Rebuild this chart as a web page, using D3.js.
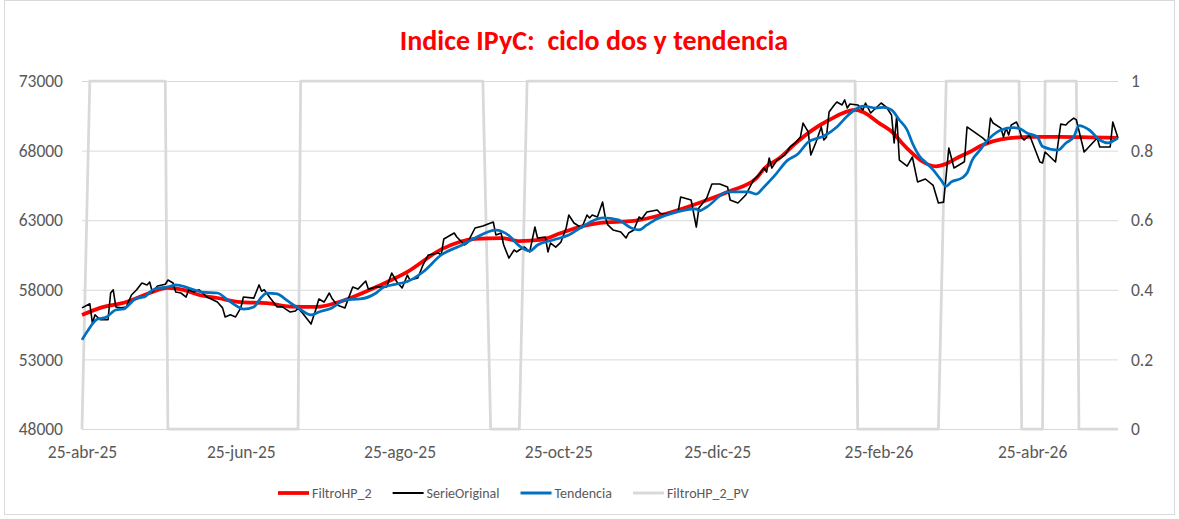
<!DOCTYPE html>
<html>
<head>
<meta charset="utf-8">
<script src="https://cdn.jsdelivr.net/npm/d3@7"></script>
<style>
  body { margin: 0; background: #fff; }
  svg { display: block; font-family: "Liberation Sans Narrow", Carlito, "Liberation Sans", sans-serif; }
</style>
</head>
<body>
<svg id="chart" width="1179" height="519"></svg>
<script>
// ---- data ----
var serieOriginal = [
  ["2025-04-25",56700],["2025-04-28",57000],["2025-04-29",55600],["2025-04-30",56200],["2025-05-02",55850],["2025-05-05",55850],
  ["2025-05-06",57770],["2025-05-07",58000],["2025-05-08",56770],["2025-05-10",56700],["2025-05-12",56770],["2025-05-14",57630],
  ["2025-05-16",58000],["2025-05-18",58490],["2025-05-20",58350],["2025-05-21",58560],["2025-05-22",57840],["2025-05-24",58270],
  ["2025-05-27",58400],["2025-05-28",58700],["2025-05-30",58490],["2025-05-31",57840],["2025-06-02",57770],["2025-06-04",57480],
  ["2025-06-05",58000],["2025-06-07",57840],["2025-06-09",58000],["2025-06-12",57480],["2025-06-16",57120],["2025-06-18",56700],
  ["2025-06-19",56050],["2025-06-21",56200],["2025-06-23",56050],["2025-06-25",56700],["2025-06-26",57480],["2025-06-30",57400],
  ["2025-07-02",58350],["2025-07-03",57900],["2025-07-04",58000],["2025-07-06",57480],["2025-07-09",56770],["2025-07-11",56770],
  ["2025-07-14",56400],["2025-07-16",56480],["2025-07-17",56700],["2025-07-19",56260],["2025-07-22",55540],["2025-07-24",56700],
  ["2025-07-25",57340],["2025-07-27",57120],["2025-07-29",57770],["2025-07-30",57400],["2025-08-01",56900],["2025-08-04",56700],
  ["2025-08-07",58200],["2025-08-09",58050],["2025-08-12",58630],["2025-08-13",58050],["2025-08-16",58200],["2025-08-20",58200],
  ["2025-08-22",59200],["2025-08-24",58560],["2025-08-26",58130],["2025-08-28",59060],["2025-08-29",58700],["2025-09-01",58850],
  ["2025-09-03",59780],["2025-09-05",60500],["2025-09-09",60640],["2025-09-10",60500],["2025-09-11",61650],["2025-09-15",62080],
  ["2025-09-16",61790],["2025-09-19",61220],["2025-09-20",61360],["2025-09-23",62440],["2025-09-26",62580],["2025-09-29",62800],
  ["2025-09-30",62870],["2025-10-01",61940],["2025-10-03",62080],["2025-10-04",61220],["2025-10-06",60280],["2025-10-08",60860],
  ["2025-10-09",60720],["2025-10-10",60860],["2025-10-12",61070],["2025-10-14",60720],["2025-10-16",62510],["2025-10-17",61720],
  ["2025-10-20",61790],["2025-10-21",60720],["2025-10-22",61360],["2025-10-24",61070],["2025-10-26",61430],["2025-10-28",62440],
  ["2025-10-29",63370],["2025-10-31",62800],["2025-11-03",62440],["2025-11-05",63370],["2025-11-06",63160],["2025-11-07",63370],
  ["2025-11-09",63230],["2025-11-11",64300],["2025-11-12",63230],["2025-11-13",62660],["2025-11-15",62300],["2025-11-18",62150],
  ["2025-11-20",61720],["2025-11-21",62080],["2025-11-23",62300],["2025-11-25",63230],["2025-11-26",63090],["2025-11-28",63590],
  ["2025-12-02",63730],["2025-12-03",63520],["2025-12-04",63450],["2025-12-08",63520],["2025-12-10",63590],["2025-12-11",64670],
  ["2025-12-15",64450],["2025-12-17",62510],["2025-12-18",63880],["2025-12-21",64600],["2025-12-23",65600],["2025-12-26",65600],
  ["2025-12-29",65390],["2025-12-30",64450],["2026-01-02",64240],["2026-01-05",64810],["2026-01-08",65890],["2026-01-10",66250],
  ["2026-01-12",66750],["2026-01-13",66460],["2026-01-14",67470],["2026-01-15",66750],["2026-01-17",67320],["2026-01-20",67680],
  ["2026-01-22",68260],["2026-01-24",68550],["2026-01-26",68980],["2026-01-27",69980],["2026-01-29",69340],["2026-01-30",67680],
  ["2026-02-01",68620],["2026-02-03",69700],["2026-02-04",68760],["2026-02-05",68980],["2026-02-06",70770],["2026-02-08",71280],
  ["2026-02-09",71490],["2026-02-11",71280],["2026-02-12",71640],["2026-02-13",71060],["2026-02-14",71350],["2026-02-17",71280],
  ["2026-02-19",70920],["2026-02-20",71420],["2026-02-22",70700],["2026-02-26",71420],["2026-02-28",71130],["2026-03-02",70560],
  ["2026-03-03",68550],["2026-03-04",70490],["2026-03-05",67320],["2026-03-08",66890],["2026-03-10",67540],["2026-03-12",65750],
  ["2026-03-15",65960],["2026-03-18",65500],["2026-03-20",64240],["2026-03-22",64300],["2026-03-24",68190],["2026-03-26",66750],
  ["2026-03-30",67200],["2026-03-31",69700],["2026-04-06",68910],["2026-04-08",68550],["2026-04-09",70340],["2026-04-10",69980],
  ["2026-04-13",69620],["2026-04-14",68980],["2026-04-15",69620],["2026-04-16",69120],["2026-04-17",69840],["2026-04-19",70050],
  ["2026-04-20",69620],["2026-04-21",68910],["2026-04-22",68760],["2026-04-24",69120],["2026-04-26",68150],["2026-04-28",67180],
  ["2026-04-29",67110],["2026-04-30",67900],["2026-05-04",67180],["2026-05-06",69900],["2026-05-08",69840],["2026-05-09",70050],
  ["2026-05-11",70340],["2026-05-12",70200],["2026-05-15",67900],["2026-05-20",68910],["2026-05-21",68260],["2026-05-25",68260],
  ["2026-05-26",70050],["2026-05-28",68910]
];

var filtroHP2 = [
  ["2025-04-25",56190],["2025-05-02",56700],["2025-05-12",57120],["2025-05-21",57770],["2025-05-28",58130],["2025-06-03",58000],
  ["2025-06-09",57630],["2025-06-16",57410],["2025-06-25",57120],["2025-07-05",57050],["2025-07-14",56800],["2025-07-24",56770],
  ["2025-08-03",57200],["2025-08-16",58200],["2025-08-28",59280],["2025-09-10",60900],["2025-09-23",61650],["2025-10-03",61720],
  ["2025-10-10",61500],["2025-10-18",61580],["2025-10-26",62080],["2025-11-02",62510],["2025-11-10",62800],["2025-11-23",62950],
  ["2025-12-05",63450],["2025-12-18",64240],["2025-12-30",65100],["2026-01-09",66000],["2026-01-12",66700],["2026-01-18",67470],
  ["2026-01-24",68500],["2026-01-30",69400],["2026-02-06",70200],["2026-02-16",70920],["2026-02-19",70770],["2026-02-25",70000],
  ["2026-03-03",69200],["2026-03-06",68550],["2026-03-10",67800],["2026-03-14",67200],["2026-03-19",66870],["2026-03-23",67050],
  ["2026-03-27",67450],["2026-04-01",67900],["2026-04-06",68400],["2026-04-13",68800],["2026-04-24",68980],["2026-05-06",68980],
  ["2026-05-17",68950],["2026-05-28",68910]
];

var tendencia = [
  ["2025-04-25",54400],["2025-04-27",55000],["2025-05-01",55900],["2025-05-04",56000],["2025-05-08",56550],["2025-05-11",56620],
  ["2025-05-13",56910],["2025-05-16",57410],["2025-05-19",57480],["2025-05-21",57840],["2025-05-24",58130],["2025-05-28",58200],
  ["2025-05-31",58350],["2025-06-05",58130],["2025-06-10",57840],["2025-06-16",57770],["2025-06-20",57270],["2025-06-24",56770],
  ["2025-06-26",56620],["2025-06-30",56770],["2025-07-03",57480],["2025-07-05",57770],["2025-07-09",57700],["2025-07-13",57200],
  ["2025-07-17",56700],["2025-07-22",56190],["2025-07-25",56410],["2025-07-30",56700],["2025-08-04",57270],["2025-08-10",57340],
  ["2025-08-16",57770],["2025-08-19",58200],["2025-08-25",58450],["2025-08-28",58600],["2025-09-03",59280],["2025-09-10",60500],
  ["2025-09-18",61220],["2025-09-23",61720],["2025-10-01",62280],["2025-10-06",61900],["2025-10-10",61150],["2025-10-14",60790],
  ["2025-10-17",61220],["2025-10-23",61580],["2025-10-29",61930],["2025-11-03",62510],["2025-11-11",63160],["2025-11-17",63020],
  ["2025-11-22",62440],["2025-11-25",62300],["2025-11-28",62660],["2025-12-02",63100],["2025-12-07",63450],["2025-12-17",63810],
  ["2025-12-18",63670],["2025-12-21",63950],["2025-12-29",65030],["2026-01-06",65030],["2026-01-09",64880],["2026-01-12",65390],
  ["2026-01-16",66180],["2026-01-21",67300],["2026-01-25",67750],["2026-01-29",68620],["2026-02-04",69050],["2026-02-09",69700],
  ["2026-02-13",70490],["2026-02-16",70950],["2026-02-19",71200],["2026-02-24",71060],["2026-02-27",71100],["2026-03-02",70920],
  ["2026-03-05",70200],["2026-03-08",69480],["2026-03-10",68550],["2026-03-13",67540],["2026-03-15",67180],["2026-03-18",66610],
  ["2026-03-21",65890],["2026-03-23",65450],["2026-03-25",65750],["2026-03-29",66030],["2026-03-31",66390],["2026-04-02",67320],
  ["2026-04-05",68040],["2026-04-07",68550],["2026-04-10",69120],["2026-04-13",69480],["2026-04-18",69650],["2026-04-20",69600],
  ["2026-04-23",69270],["2026-04-27",68980],["2026-04-29",68300],["2026-05-05",68040],["2026-05-08",68550],["2026-05-11",68980],
  ["2026-05-13",69800],["2026-05-17",69480],["2026-05-21",68760],["2026-05-24",68550],["2026-05-28",68910]
];

// 0/1 series on the secondary axis (only the days where it switches)
var filtroHP2PV = [
  ["2025-04-25",0],["2025-04-28",1],["2025-05-27",1],["2025-05-28",0],["2025-07-17",0],["2025-07-18",1],
  ["2025-09-26",1],["2025-09-29",0],["2025-10-10",0],["2025-10-13",1],["2026-02-16",1],["2026-02-17",0],
  ["2026-03-20",0],["2026-03-23",1],["2026-04-20",1],["2026-04-21",0],["2026-04-29",0],["2026-04-30",1],
  ["2026-05-12",1],["2026-05-13",0],["2026-05-28",0]
];

var leftTicks = [48000, 53000, 58000, 63000, 68000, 73000];
var rightTicks = [0, 0.2, 0.4, 0.6, 0.8, 1];
var xTickDates = ["2025-04-25","2025-06-25","2025-08-25","2025-10-25","2025-12-25","2026-02-25","2026-04-25"];
var mesesAbr = ["ene","feb","mar","abr","may","jun","jul","ago","sep","oct","nov","dic"];

var seriesNames = ["FiltroHP_2", "SerieOriginal", "Tendencia", "FiltroHP_2_PV"];
var seriesColors = ["#ff0000", "#000000", "#0070c0", "#d9d9d9"];

// ---- drawing ----
var parse = d3.timeParse("%Y-%m-%d");
var svg = d3.select("#chart");
var W = 1179, H = 519;
var m = {top: 81, right: 61, bottom: 90, left: 82};
var w = W - m.left - m.right, h = H - m.top - m.bottom;

svg.append("rect").attr("x", 4.5).attr("y", 0.5).attr("width", 1170).attr("height", 514)
  .attr("fill", "#fff").attr("stroke", "#d9d9d9");

var x = d3.scaleTime().domain([parse("2025-04-25"), parse("2026-05-28")]).range([0, w]);
var y = d3.scaleLinear().domain([48000, 73000]).range([h, 0]);
var y2 = d3.scaleLinear().domain([0, 1]).range([h, 0]);

var g = svg.append("g").attr("transform", "translate(" + m.left + "," + m.top + ")");

// gridlines + left axis
var yAxis = g.append("g").call(d3.axisLeft(y).tickValues(leftTicks).tickSize(-w).tickPadding(19).tickFormat(d3.format("d")));
yAxis.select(".domain").remove();
yAxis.selectAll("line").attr("stroke", "#d9d9d9");

var y2Axis = g.append("g").attr("transform", "translate(" + w + ",0)")
  .call(d3.axisRight(y2).tickValues(rightTicks).tickSize(0).tickPadding(13).tickFormat(function(d){ return String(+d.toFixed(1)); }));
y2Axis.select(".domain").remove();

var xAxis = g.append("g").attr("transform", "translate(0," + h + ")")
  .call(d3.axisBottom(x).tickValues(xTickDates.map(parse)).tickSize(0).tickPadding(17)
    .tickFormat(function(d){ return d3.timeFormat("%d")(d) + "-" + mesesAbr[d.getMonth()] + "-" + d3.timeFormat("%y")(d); }));
xAxis.select(".domain").remove();

svg.selectAll(".tick text").attr("fill", "#595959").style("font-size", "17.5px")
  .style("font-family", "'Liberation Sans Narrow', Carlito, 'Liberation Sans', sans-serif");

function toPts(arr) { return arr.map(function(d){ return {date: parse(d[0]), v: d[1]}; }); }

var linePV = d3.line().x(function(d){ return x(d.date); }).y(function(d){ return y2(d.v); });
var lineRaw = d3.line().x(function(d){ return x(d.date); }).y(function(d){ return y(d.v); });
var lineSmooth = d3.line().curve(d3.curveMonotoneX).x(function(d){ return x(d.date); }).y(function(d){ return y(d.v); });

g.append("path").datum(toPts(filtroHP2PV)).attr("d", linePV)
  .attr("fill", "none").attr("stroke", seriesColors[3]).attr("stroke-width", 2.75).attr("stroke-linejoin", "round");
g.append("path").datum(toPts(filtroHP2)).attr("d", lineSmooth)
  .attr("fill", "none").attr("stroke", seriesColors[0]).attr("stroke-width", 3.75).attr("stroke-linejoin", "round");
g.append("path").datum(toPts(serieOriginal)).attr("d", lineRaw)
  .attr("fill", "none").attr("stroke", seriesColors[1]).attr("stroke-width", 1.6).attr("stroke-linejoin", "round");
g.append("path").datum(toPts(tendencia)).attr("d", lineSmooth)
  .attr("fill", "none").attr("stroke", seriesColors[2]).attr("stroke-width", 2.75).attr("stroke-linejoin", "round");

// title
svg.append("text").attr("x", 594).attr("y", 50).attr("text-anchor", "middle")
  .attr("fill", "#ff0000").style("font-size", "28px").style("font-weight", "bold")
  .text("Indice IPyC:  ciclo dos y tendencia").attr("xml:space", "preserve").style("white-space", "pre");

// legend
var legX = 278, legY = 493;
var lw = [3.75, 2, 3, 3];
seriesNames.forEach(function(name, i) {
  svg.append("line").attr("x1", legX).attr("x2", legX + 31).attr("y1", legY).attr("y2", legY)
    .attr("stroke", seriesColors[i]).attr("stroke-width", lw[i]);
  var t = svg.append("text").attr("x", legX + 34).attr("y", legY + 5).attr("fill", "#595959")
    .style("font-size", "14px").text(name);
  legX += 34 + t.node().getComputedTextLength() + 21;
});
</script>
</body>
</html>
